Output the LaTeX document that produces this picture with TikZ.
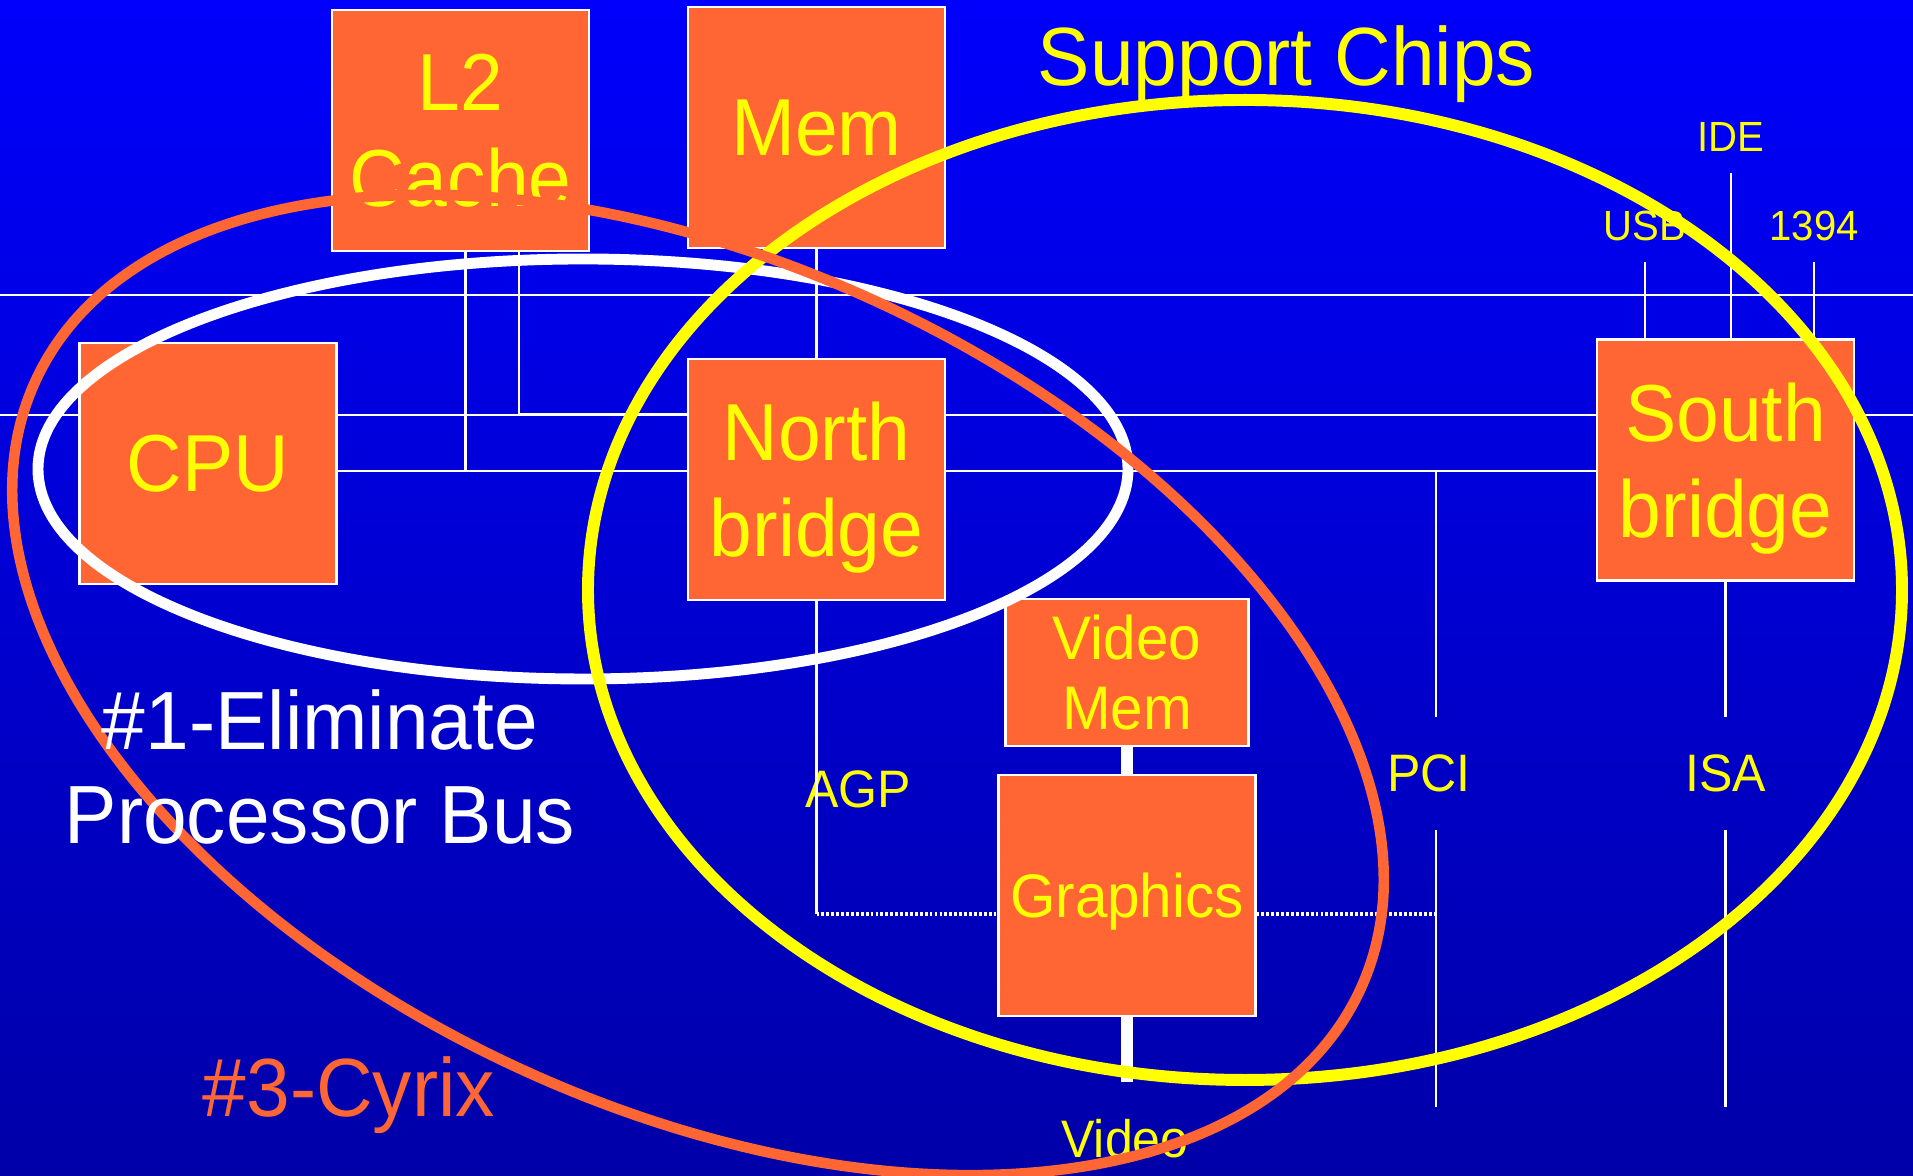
\documentclass[tikz,border=0pt]{standalone}
\usepackage{fontspec}
\setmainfont[FakeStretch=0.95]{Liberation Sans}
\definecolor{bgtop}{RGB}{0,0,252}
\definecolor{bgbot}{RGB}{0,0,168}
\definecolor{chipfill}{RGB}{255,102,51}
\definecolor{hilite}{RGB}{255,255,0}

\begin{document}
\begin{tikzpicture}[
  chip/.style={draw=white, line width=0.6pt, fill=chipfill, text=hilite, inner sep=0pt,
    minimum width=2.57cm, minimum height=2.41cm, align=center, text depth=0pt,
    font=\fontsize{23}{27.3}\selectfont},
  wire/.style={white, line width=0.6pt},
  guide/.style={white, line width=0.35pt},
  fat/.style={white, line width=3.2pt},
  dots/.style={white, line width=1pt, dash pattern=on 0.8pt off 0.6pt},
  buslbl/.style={text=hilite, inner xsep=0pt, inner ysep=3.7mm, font=\fontsize{15}{18}\selectfont},
  portlbl/.style={text=hilite, inner xsep=0pt, inner ysep=2mm, font=\fontsize{12}{14}\selectfont},
  note/.style={align=center, font=\fontsize{23.5}{27}\selectfont}]

\useasboundingbox (0,0) rectangle (19.13,11.76);
\shade[top color=bgtop, bottom color=bgbot] (0,0) rectangle (19.13,11.76);

% guide lines across the slide
\draw[guide] (0,8.81) -- (19.13,8.81);
\draw[guide] (0,7.61) -- (19.13,7.61);

% chips
\node[chip] (l2) at (4.605,10.455) {L2\\Cache};
\node[chip] (mem) at (8.165,10.485) {Mem};
\node[chip] (cpu) at (2.08,7.125) {CPU};
\node[chip] (nb) at (8.165,6.965) {North\\bridge};
\node[chip] (sb) at (17.255,7.16) {South\\bridge};
\node[chip, minimum width=2.43cm, minimum height=1.47cm, font=\fontsize{17.5}{20}\selectfont] (vmem) at (11.27,5.035) {Video\\Mem};
\node[chip, font=\fontsize{17.5}{20}\selectfont] (gfx) at (11.27,2.805) {Graphics};

% bus points and labels
\coordinate (fsb) at (0,7.05);
\coordinate (bsb) at (0,7.62);
\coordinate (pci) at (14.36,7.05);
\coordinate (agp) at (8.165,2.62);
\coordinate (busend) at (0,0.69);
\node[buslbl, anchor=base] (pcilbl) at (14.29,3.84) {PCI};
\node[buslbl, anchor=base] (isalbl) at (17.255,3.84) {ISA};
\node[buslbl, anchor=base] (agplbl) at (8.58,3.68) {AGP};
\node[buslbl, anchor=base] (video) at (11.25,0.18) {Video};
\node[portlbl, anchor=base] (usb) at (16.45,9.35) {USB};
\node[portlbl, anchor=base] (ide) at (17.31,10.24) {IDE};
\node[portlbl, anchor=base] (fw) at (18.14,9.35) {1394};

% buses
\draw[wire] (cpu.east |- fsb) -- (nb.west |- fsb);
\draw[wire] (nb.east |- fsb) -- (sb.west |- fsb);
\draw[wire] ([xshift=0.5mm]l2.south) -- ([xshift=0.5mm]l2.south |- fsb);
\draw[wire] ([xshift=5.85mm]l2.south) |- (nb.west |- bsb);
\draw[wire] (mem) -- (nb);
\draw[wire] (pci) -- (pcilbl.north -| pci);
\draw[wire] (pcilbl.south -| pci) -- (busend -| pci);
\draw[wire] (sb.south) -- (sb.south |- isalbl.north);
\draw[wire] (isalbl.south -| sb.south) -- (busend -| sb.south);
\draw[wire] (usb) -- (usb |- sb.north);
\draw[wire] (ide) -- (ide |- sb.north);
\draw[wire] (fw) -- (fw |- sb.north);
\draw[wire] (nb.south) -- (agp);
\draw[dots] (agp) -- (gfx.west |- agp);
\draw[dots] (gfx.east |- agp) -- (pci |- agp);
\draw[fat] (vmem) -- (gfx);
\draw[fat] (gfx) -- (gfx.south |- video.north);

% the three groupings
\draw[white, line width=3.1pt] (5.83,7.07) ellipse [x radius=5.45, y radius=2.10];
\draw[hilite, line width=3.4pt] (12.45,5.86) ellipse [x radius=6.57, y radius=4.90];
\draw[chipfill, line width=3.0pt, rotate around={-24.65:(6.98,4.91)}] (6.98,4.91) ellipse [x radius=7.29, y radius=4.23];

% notes
\node[note, text=white] (elim) at (3.20,4.09) {\#1-Eliminate\\Processor Bus};
\node[note, text=chipfill, anchor=base] (cyrix) at (3.49,0.59) {\#3-Cyrix};
\node[note, text=hilite, anchor=base] (support) at (12.865,10.90) {Support Chips};
\end{tikzpicture}
\end{document}
